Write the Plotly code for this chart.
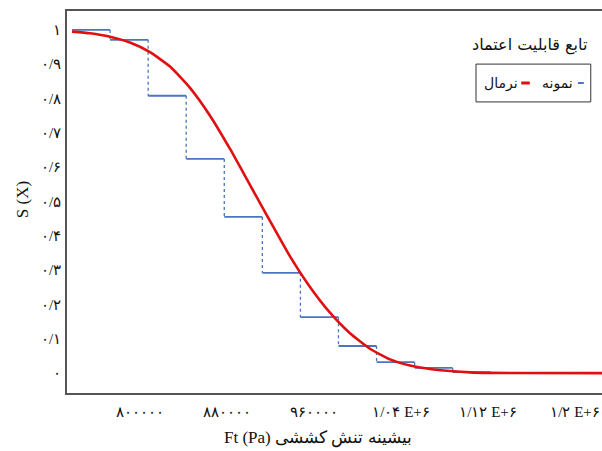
import plotly.graph_objects as go

# ---- data ----
step_x = [737500, 772500, 807500, 842500, 877500, 912500, 947500, 982500,
          1017500, 1052500, 1087500, 1122500]
step_y = [1.0, 0.971, 0.808, 0.624, 0.455, 0.292, 0.163, 0.079, 0.032, 0.015, 0.003]

curve_x = [737500, 754050, 772440, 790830, 809220, 827610, 846000, 864400,
           882800, 901200, 919600, 937950, 956300, 974700, 993100, 1011500,
           1029900, 1048300, 1066700, 1085100, 1103500, 1121900, 1230000]
curve_y = [0.995, 0.990, 0.980, 0.963, 0.935, 0.893, 0.831, 0.750,
           0.653, 0.548, 0.443, 0.340, 0.251, 0.176, 0.116, 0.071,
           0.040, 0.022, 0.012, 0.006, 0.002, 0.0005, 0.0]

x_tickvals = [800000, 880000, 960000, 1040000, 1120000, 1200000]
x_ticktext = ["۸۰۰۰۰۰", "۸۸۰۰۰۰", "۹۶۰۰۰۰", "۱/۰۴ E+۶", "۱/۱۲ E+۶", "۱/۲ E+۶"]
y_tickvals = [0, 0.1, 0.2, 0.3, 0.4, 0.5, 0.6, 0.7, 0.8, 0.9, 1.0]
y_ticktext = ["۰", "۰/۱", "۰/۲", "۰/۳", "۰/۴", "۰/۵", "۰/۶", "۰/۷", "۰/۸", "۰/۹", "۱"]

name_sample = "نمونه"
name_normal = "نرمال"
legend_title = "تابع قابلیت اعتماد"
x_title = "Ft (Pa) بیشینه تنش کششی"
y_title = "S (X)"

BLUE = "#4a76bf"
RED = "#e01010"

# build step segments
hx, hy, vx, vy = [], [], [], []
for i, lvl in enumerate(step_y):
    hx += [step_x[i], step_x[i + 1], None]
    hy += [lvl, lvl, None]
    if i + 1 < len(step_y):
        vx += [step_x[i + 1], step_x[i + 1], None]
        vy += [lvl, step_y[i + 1], None]

fig = go.Figure()
fig.add_trace(go.Scatter(x=vx, y=vy, mode="lines",
                         line=dict(color=BLUE, width=1.3, dash="dot"),
                         showlegend=False, hoverinfo="skip"))
fig.add_trace(go.Scatter(x=hx, y=hy, mode="lines",
                         line=dict(color=BLUE, width=1.8),
                         name=name_sample, showlegend=False))
fig.add_trace(go.Scatter(x=curve_x, y=curve_y, mode="lines",
                         line=dict(color=RED, width=2.6, shape="spline", smoothing=0.5),
                         name=name_normal, showlegend=False))

SERIF = "Liberation Serif, Times New Roman, DejaVu Serif, serif"
PERS = "DejaVu Sans"

fig.update_layout(
    width=602, height=451,
    margin=dict(l=67, r=0, t=11, b=58),
    paper_bgcolor="white", plot_bgcolor="white",
    xaxis=dict(range=[732900, 1224800], tickvals=x_tickvals, ticktext=x_ticktext,
               showgrid=False, zeroline=False, showline=True, mirror=True,
               linecolor="#555555", linewidth=1.5,
               ticks="outside", ticklen=4, tickcolor="rgba(0,0,0,0)",
               tickfont=dict(family=SERIF, size=15, color="#111111")),
    yaxis=dict(range=[-0.058, 1.055], tickvals=y_tickvals, ticktext=y_ticktext,
               showgrid=False, zeroline=False, showline=True, mirror=False,
               linecolor="#555555", linewidth=1.5,
               ticks="outside", ticklen=1, tickcolor="rgba(0,0,0,0)",
               tickfont=dict(family=SERIF, size=15, color="#111111")),
    showlegend=False,
)

annotations = [
    dict(text=y_title, xref="paper", yref="paper", x=-0.084, y=0.505,
         textangle=-90, showarrow=False, font=dict(family=SERIF, size=17, color="#111"),
         xanchor="center", yanchor="middle"),
    dict(text=x_title, xref="paper", yref="paper", x=0.469, y=-0.118,
         showarrow=False, font=dict(family=SERIF, size=17, color="#111"),
         xanchor="center", yanchor="middle"),
    dict(text=legend_title, xref="paper", yref="paper", x=0.865, y=0.911,
         showarrow=False, font=dict(family=PERS, size=16, color="#111"),
         xanchor="center", yanchor="middle"),
    dict(text=name_sample, xref="paper", yref="paper", x=0.916, y=0.8115,
         showarrow=False, font=dict(family=PERS, size=14, color="#111"),
         xanchor="center", yanchor="middle"),
    dict(text=name_normal, xref="paper", yref="paper", x=0.811, y=0.8115,
         showarrow=False, font=dict(family=PERS, size=14, color="#111"),
         xanchor="center", yanchor="middle"),
]
shapes = [
    dict(type="rect", xref="paper", yref="paper", x0=0.7645, x1=0.979, y0=0.762, y1=0.861,
         line=dict(color="#333333", width=1), fillcolor="rgba(0,0,0,0)"),
    dict(type="line", xref="paper", yref="paper", x0=0.955, x1=0.966, y0=0.8115, y1=0.8115,
         line=dict(color=BLUE, width=2)),
    dict(type="line", xref="paper", yref="paper", x0=0.849, x1=0.865, y0=0.8115, y1=0.8115,
         line=dict(color=RED, width=3)),
]
fig.update_layout(annotations=annotations, shapes=shapes)

fig.write_html("out.html")
